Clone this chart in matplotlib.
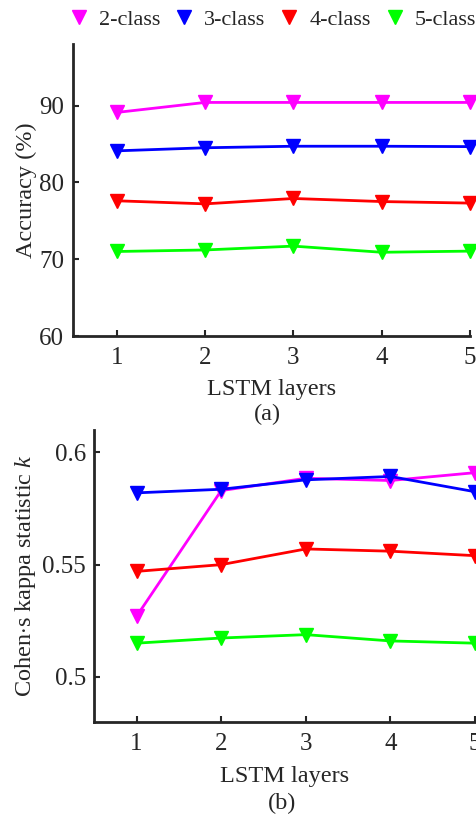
import matplotlib
matplotlib.use("Agg")
import matplotlib.pyplot as plt
from matplotlib.lines import Line2D

plt.rcParams['font.family'] = ['Liberation Serif', 'DejaVu Serif']
plt.rcParams['mathtext.fontset'] = 'custom'
plt.rcParams['mathtext.it'] = 'Liberation Serif:italic'
plt.rcParams['mathtext.rm'] = 'Liberation Serif'

layers = [1, 2, 3, 4, 5]
names = ['2-class', '3-class', '4-class', '5-class']
colors = ['#ff00ff', '#0000ff', '#ff0000', '#00ff00']

acc_2 = [89.1, 90.4, 90.4, 90.4, 90.4]
acc_3 = [84.1, 84.5, 84.7, 84.7, 84.65]
acc_4 = [77.6, 77.2, 77.9, 77.5, 77.3]
acc_5 = [71.0, 71.2, 71.7, 70.9, 71.05]

kap_2 = [0.527, 0.583, 0.5885, 0.5875, 0.591]
kap_3 = [0.582, 0.5836, 0.5878, 0.5893, 0.5825]
kap_4 = [0.547, 0.550, 0.557, 0.556, 0.554]
kap_5 = [0.515, 0.5173, 0.5188, 0.516, 0.515]

edge = '#262626'
fs = 17.5

fig = plt.figure(figsize=(4.77, 8.14), dpi=100)
ax1 = fig.add_axes([0.1524, 0.5872, 0.8329, 0.3587])
ax2 = fig.add_axes([0.1977, 0.1134, 0.7981, 0.3583])


def style(ax, lpad):
    for s in ['top', 'right']:
        ax.spines[s].set_visible(False)
    for s in ['left', 'bottom']:
        ax.spines[s].set_linewidth(2)
        ax.spines[s].set_color(edge)
    ax.tick_params(direction='in', length=4, width=1.5, color=edge,
                   labelcolor=edge, labelsize=18)
    ax.tick_params(axis='x', pad=8)
    ax.tick_params(axis='y', pad=6)
    ax.set_xlim(0.5, 5)
    ax.set_xticks(layers)
    ax.set_xlabel('LSTM layers', fontsize=fs, color=edge, labelpad=lpad)


for vals, c in zip([acc_2, acc_3, acc_4, acc_5], colors):
    ax1.plot(layers, vals, color=c, lw=2, marker='v', ms=10, clip_on=False)
style(ax1, 7)
ax1.set_ylim(60, 98)
ax1.set_yticks([60, 70, 80, 90])
ax1.set_ylabel('Accuracy (%)', fontsize=fs, color=edge, labelpad=2)

for vals, c in zip([kap_2, kap_3, kap_4, kap_5], colors):
    ax2.plot(layers, vals, color=c, lw=2, marker='v', ms=10, clip_on=False)
style(ax2, 8)
ax2.set_ylim(0.48, 0.61)
ax2.set_yticks([0.5, 0.55, 0.6])
ax2.set_yticklabels(['0.5', '0.55', '0.6'])
ax2.set_ylabel('Cohen$\\cdot$s kappa statistic $k$', fontsize=fs, color=edge,
               labelpad=3)

handles = [Line2D([], [], ls='none', marker='v', ms=10, color=c) for c in colors]
fig.legend(handles, names, loc='center', bbox_to_anchor=(0.572, 0.976),
           ncol=4, frameon=False, handlelength=0.8, handletextpad=0.5,
           columnspacing=0.68, fontsize=16, labelcolor=edge,
           borderpad=0, borderaxespad=0)

fig.text(0.561, 1 - 414 / 814, '(a)', ha='center', va='center',
         fontsize=fs, color=edge)
fig.text(0.592, 1 - 803 / 814, '(b)', ha='center', va='center',
         fontsize=fs, color=edge)

fig.savefig('out.png', dpi=100)
